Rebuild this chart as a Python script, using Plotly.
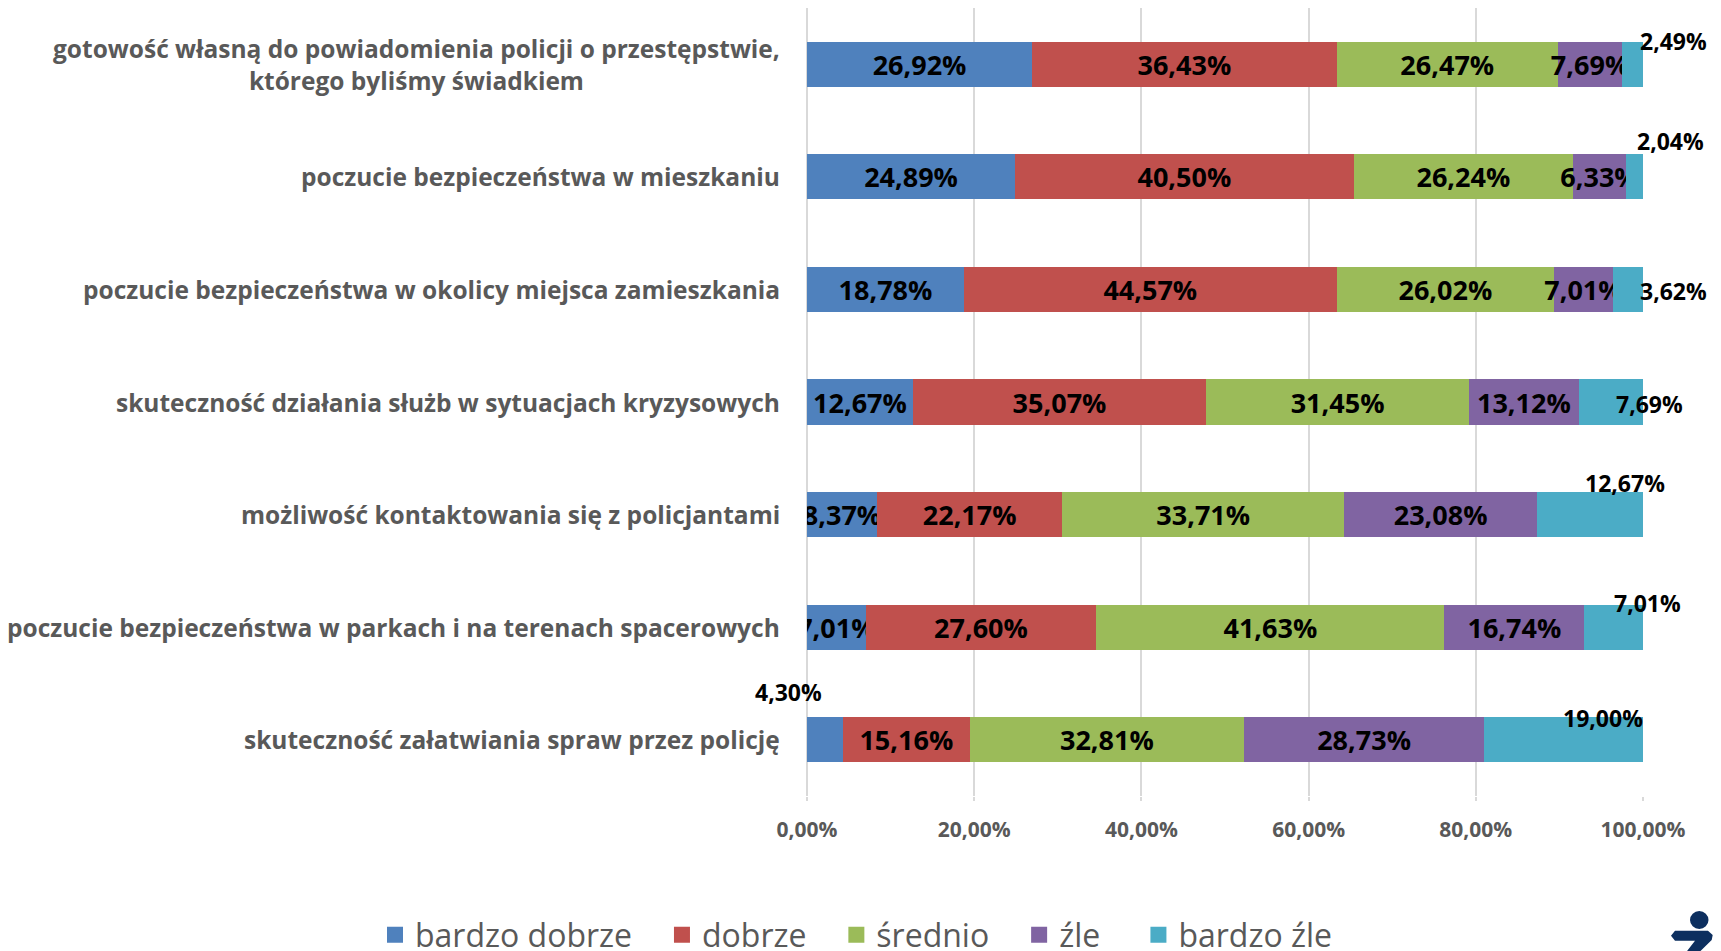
import plotly.graph_objects as go

categories = [
    "gotowość własną do powiadomienia policji o przestępstwie,<br>którego byliśmy świadkiem",
    "poczucie bezpieczeństwa w mieszkaniu",
    "poczucie bezpieczeństwa w okolicy miejsca zamieszkania",
    "skuteczność działania służb w sytuacjach kryzysowych",
    "możliwość kontaktowania się z policjantami",
    "poczucie bezpieczeństwa w parkach i na terenach spacerowych",
    "skuteczność załatwiania spraw przez policję",
]
series_names = ["bardzo dobrze", "dobrze", "średnio", "źle", "bardzo źle"]
bardzo_dobrze = [26.92, 24.89, 18.78, 12.67, 8.37, 7.01, 4.30]
dobrze = [36.43, 40.50, 44.57, 35.07, 22.17, 27.60, 15.16]
srednio = [26.47, 26.24, 26.02, 31.45, 33.71, 41.63, 32.81]
zle = [7.69, 6.33, 7.01, 13.12, 23.08, 16.74, 28.73]
bardzo_zle = [2.49, 2.04, 3.62, 7.69, 12.67, 7.01, 19.00]
tick_values = [0, 20, 40, 60, 80, 100]

series_values = [bardzo_dobrze, dobrze, srednio, zle, bardzo_zle]
colors = ["#4F81BD", "#C0504D", "#9BBB59", "#8064A2", "#4BACC6"]

FONT = "Open Sans, Noto Sans, sans-serif"
GRAY = "#595959"


def pl(v):
    return f"{v:.2f}%".replace(".", ",")


tick_text = [pl(v) for v in tick_values]

# label offsets (pixels) for the labels Excel placed manually
teal_offsets = [(30, 23), (27, 36), (30, -2), (6, -2), (-18, 32), (5, 24), (-40, 22)]
small_blue_offset = (-36, 48)
legend_pads = [3, 3, 3, 4, 0]

fig = go.Figure()
for i, (name, vals, col) in enumerate(zip(series_names, series_values, colors)):
    if i == 4:
        tpos = "none"
    elif i == 0:
        tpos = ["none" if v < 5 else "inside" for v in vals]
    else:
        tpos = "inside"
    fig.add_trace(go.Bar(
        y=categories, x=vals, name=name, orientation="h",
        marker=dict(color=col, line=dict(width=0)),
        texttemplate="%{x:.2f}%", textposition=tpos, insidetextanchor="middle",
        textangle=0, constraintext="none",
        textfont=dict(family=FONT, size=27, color="black", weight="bold"),
        showlegend=False, hoverinfo="skip",
    ))
for name, col, npad in zip(series_names, colors, legend_pads):
    fig.add_trace(go.Scatter(
        x=[None], y=[None], mode="markers", name=name + "\u00a0" * npad,
        marker=dict(symbol="square", size=16, color=col), showlegend=True,
    ))

annotations = []
# category labels
for c in categories:
    annotations.append(dict(
        x=0, xref="paper", y=c, yref="y", text=c, showarrow=False,
        xanchor="right", yanchor="middle", align="center", xshift=-25,
        font=dict(family=FONT, size=24.5, color=GRAY, weight="bold"),
    ))
# teal labels placed at the end of each bar
for c, vals_row, off in zip(categories, zip(*series_values), teal_offsets):
    end = sum(vals_row)
    annotations.append(dict(
        x=end, y=c, xref="x", yref="y", text=pl(vals_row[4]),
        showarrow=False, xanchor="center", yanchor="middle",
        xshift=off[0], yshift=off[1],
        font=dict(family=FONT, size=23, color="black", weight="bold"),
    ))
# small blue label
for c, v in zip(categories, bardzo_dobrze):
    if v < 5:
        annotations.append(dict(
            x=v / 2, y=c, xref="x", yref="y", text=pl(v),
            showarrow=False, xanchor="center", yanchor="middle",
            xshift=small_blue_offset[0], yshift=small_blue_offset[1],
            font=dict(family=FONT, size=23, color="black", weight="bold"),
        ))

# page has an 8px body margin: figure is sized to fit the window
OFF = 8
W, H = 1721 - OFF, 951 - OFF
ML, MR, MT, MB = 799, 78, 0, 155
pw, ph = W - ML - MR, H - MT - MB


def px(X, Y):
    # screen pixel -> paper coords
    return (X - OFF - ML) / pw, (H - MB - (Y - OFF)) / ph


hx0, hy0 = px(1690, 911)
hx1, hy1 = px(1708.5, 929)
body_pts = [(1675, 930.7), (1708, 930.7), (1712.7, 935), (1711.7, 940), (1700, 951.5),
            (1686.7, 951.5), (1695, 940.7), (1675, 940.7), (1671, 935.7)]
path = "M " + " L ".join("%.5f,%.5f" % px(X, Y) for X, Y in body_pts) + " Z"
shapes = [
    dict(type="circle", xref="paper", yref="paper", x0=hx0, y0=hy0, x1=hx1, y1=hy1,
         fillcolor="#0D2F5F", line=dict(width=0), layer="above"),
    dict(type="path", xref="paper", yref="paper", path=path,
         fillcolor="#0D2F5F", line=dict(width=0), layer="above"),
]

leg_x, leg_y = px(375, 935)

fig.update_layout(
    barmode="stack", bargap=0.6,
    width=W, height=H,
    margin=dict(l=ML, r=MR, t=MT, b=MB, pad=0, autoexpand=False),
    paper_bgcolor="white", plot_bgcolor="white",
    separators=", ",
    font=dict(family=FONT, color=GRAY),
    xaxis=dict(range=[0, 100], tickvals=tick_values, ticktext=tick_text,
               showgrid=True, gridcolor="#D9D9D9", gridwidth=2,
               zeroline=True, zerolinecolor="#D9D9D9", zerolinewidth=2,
               showline=False, ticks="outside", ticklen=4, tickwidth=2, tickcolor="#D9D9D9",
               ticklabelstandoff=11, automargin=False,
               tickfont=dict(family=FONT, size=21, color=GRAY, weight="bold"),
               fixedrange=True),
    yaxis=dict(categoryorder="array", categoryarray=categories,
               range=[len(categories) - 0.5, -0.5], autorange=False,
               showticklabels=False, showgrid=False, zeroline=False, showline=False,
               automargin=False, fixedrange=True),
    legend=dict(orientation="h", xref="paper", x=leg_x, xanchor="left",
                yref="paper", y=leg_y, yanchor="middle", traceorder="normal",
                font=dict(family=FONT, size=32, color=GRAY),
                itemclick=False, itemdoubleclick=False),
    annotations=annotations,
    shapes=shapes,
)

fig.write_html("out.html", config={"displayModeBar": False})
